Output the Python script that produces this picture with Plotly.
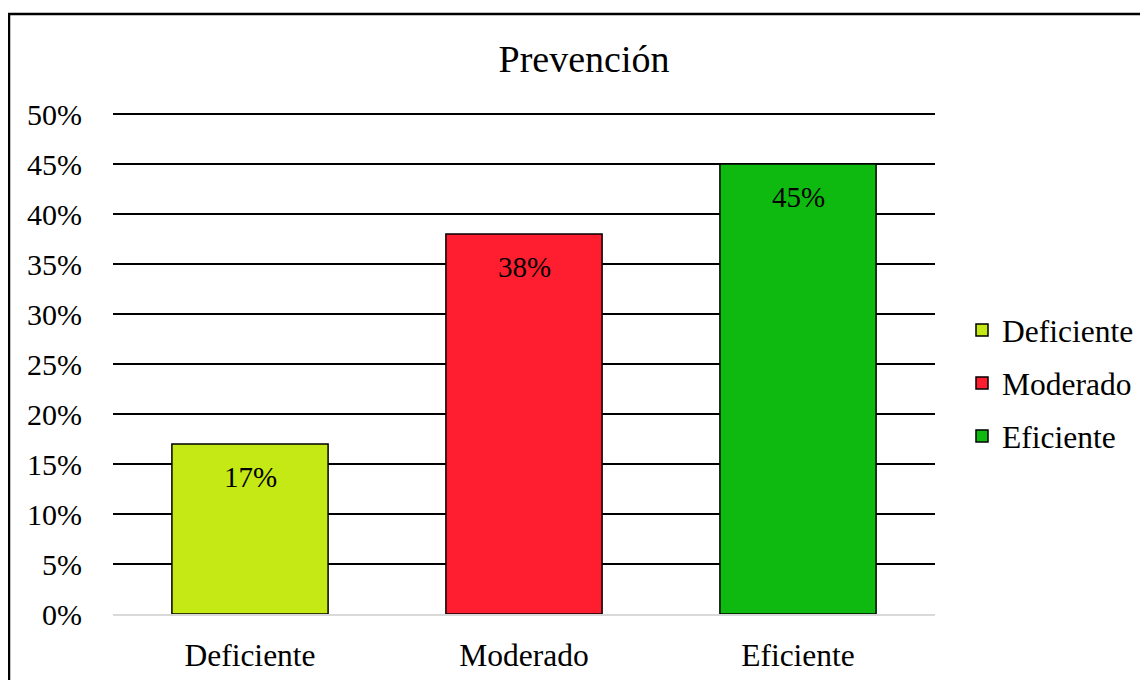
import plotly.graph_objects as go

categories = ["Deficiente", "Moderado", "Eficiente"]
values = [17, 38, 45]
colors = ["#c5e914", "#ff1e30", "#0eba10"]
tick_vals = [0, 5, 10, 15, 20, 25, 30, 35, 40, 45, 50]
tick_text = [f"{v}%" for v in tick_vals]
title_text = "Prevención"

FONT = "Liberation Serif"
OFF = 8  # page body margin offset

W, H = 1148, 680
YMAX = 50.6
# target pixel positions in the screenshot, shifted by the page offset
L = 113 - OFF
R = 935 - OFF
B = 614 - OFF
T = B - 10 * YMAX  # 10 px per percent

fig = go.Figure()
for cat, val, col in zip(categories, values, colors):
    fig.add_trace(go.Bar(
        x=[cat], y=[val], name=cat,
        marker=dict(color=col, line=dict(color="black", width=1.5)),
        legendgroup=cat, hoverinfo="skip",
    ))
    fig.add_annotation(x=cat, y=val, text=f"{val}%", showarrow=False,
                       yshift=-33, yanchor="middle", xanchor="center",
                       font=dict(family=FONT, size=29, color="black"))


def px(x):
    return (x - OFF - L) / (R - L)


def py(y):
    return (B - (y - OFF)) / (B - T)


fig.add_shape(type="rect", xref="paper", yref="paper",
              x0=px(9), x1=px(1170), y0=py(14), y1=py(710),
              line=dict(color="black", width=2.5), fillcolor="rgba(0,0,0,0)",
              layer="above")

fig.update_layout(
    width=W, height=H,
    margin=dict(l=L, r=W - R, t=T, b=H - B, pad=0),
    paper_bgcolor="white", plot_bgcolor="white",
    barmode="overlay", bargap=0.43,
    font=dict(family=FONT, size=30, color="black"),
    title=dict(text=title_text, x=px(584), xref="paper", xanchor="center",
               y=1 - (59 - OFF) / H, yref="container", yanchor="middle",
               font=dict(family=FONT, size=38, color="black")),
    legend=dict(x=px(962), y=py(383), xanchor="left", yanchor="middle",
                traceorder="grouped", tracegroupgap=9,
                font=dict(family=FONT, size=31.5, color="black"),
                bgcolor="rgba(0,0,0,0)"),
    showlegend=True,
)
fig.update_xaxes(categoryorder="array", categoryarray=categories,
                 showgrid=False, showline=True, linecolor="#d9d9d9", linewidth=1.5,
                 ticks="", ticklabelstandoff=12,
                 tickfont=dict(family=FONT, size=31.5, color="black"))
fig.update_yaxes(range=[0, YMAX], tickvals=tick_vals, ticktext=tick_text,
                 showgrid=True, gridcolor="black", gridwidth=1.5,
                 zeroline=False, showline=False, ticks="",
                 ticklabelstandoff=30,
                 tickfont=dict(family=FONT, size=30, color="black"))

fig.write_html("out.html")
